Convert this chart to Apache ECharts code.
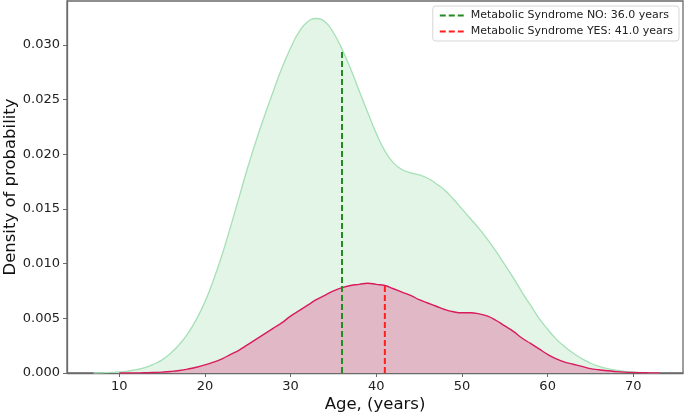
<!DOCTYPE html>
<html>
<head>
<meta charset="utf-8">
<script src="https://cdn.jsdelivr.net/npm/echarts@6/dist/echarts.min.js"></script>
<style>
  html, body { margin: 0; padding: 0; background: #fff; }
  #chart { width: 685px; height: 416px; }
</style>
</head>
<body>
<div id="chart"></div>
<script>
// KDE of age, by metabolic syndrome status
const ageNo = [7, 8, 9, 10, 11, 12, 13, 14, 15, 16, 17, 18, 19, 20, 21, 22, 23, 24, 25, 26, 27, 28, 29, 30, 31, 32,
  33, 34, 35, 36, 37, 38, 39, 40, 41, 42, 43, 44, 45, 46, 47, 48, 49, 50, 51, 52, 53, 54, 55, 56, 57, 58, 59, 60,
  61, 62, 63, 64, 65, 66, 67, 68, 69, 70, 71, 72, 73]
const densNo = [0, 0.00002, 0.00005, 0.0001, 0.00018, 0.0003, 0.0005, 0.0008, 0.0012, 0.0018, 0.0026, 0.0036,
  0.0049, 0.0065, 0.0085, 0.0108, 0.0134, 0.0161, 0.0188, 0.0213, 0.0236, 0.0258, 0.0279, 0.0297, 0.0312, 0.0321,
  0.0324, 0.0321, 0.0311, 0.0296, 0.0278, 0.0258, 0.0238, 0.0219, 0.0203, 0.0192, 0.0186, 0.0183, 0.0181, 0.0178,
  0.0173, 0.0167, 0.0159, 0.0150, 0.0141, 0.0132, 0.0122, 0.0111, 0.0099, 0.0087, 0.0074, 0.0062, 0.0050, 0.0040,
  0.0031, 0.0024, 0.0018, 0.0013, 0.0009, 0.0006, 0.0004, 0.00025, 0.00015, 0.00008, 0.00004, 0.00001, 0]

const ageYes = [10, 11, 12, 13, 14, 15, 16, 17, 18, 19, 20, 21, 22, 23, 24, 25, 26, 27, 28, 29, 30, 31, 32, 33, 34,
  35, 36, 37, 38, 39, 40, 41, 42, 43, 44, 45, 46, 47, 48, 49, 50, 51, 52, 53, 54, 55, 56, 57, 58, 59, 60, 61, 62,
  63, 64, 65, 66, 67, 68, 69, 70, 71, 72, 73]
const densYes = [0, 0.000005, 0.00001, 0.00002, 0.00004, 0.00008, 0.00014, 0.00023, 0.00036, 0.00053, 0.00074,
  0.00099, 0.0013, 0.0017, 0.0021, 0.0026, 0.0031, 0.0036, 0.0041, 0.0046, 0.0052, 0.0057, 0.0062, 0.0067, 0.0071,
  0.0075, 0.0078, 0.0080, 0.0081, 0.0082, 0.0081, 0.0080, 0.0077, 0.0074, 0.0071, 0.0067, 0.0064, 0.0061, 0.0058,
  0.0056, 0.0055, 0.0055, 0.0054, 0.0052, 0.0048, 0.0043, 0.0038, 0.0032, 0.0027, 0.0022, 0.0017, 0.0013, 0.0010,
  0.0008, 0.0006, 0.0004, 0.0003, 0.0002, 0.00013, 0.00008, 0.00005, 0.00003, 0.00001, 0]

// medians and the curve height there
const medianNo = 36.0
const medianNoTop = 0.0295
const medianYes = 41.0
const medianYesTop = 0.0080

const xTicks = [10, 20, 30, 40, 50, 60, 70]
const yTicks = [0, 0.005, 0.01, 0.015, 0.02, 0.025, 0.03]

const nameNo = `Metabolic Syndrome NO: ${medianNo.toFixed(1)} years`
const nameYes = `Metabolic Syndrome YES: ${medianYes.toFixed(1)} years`

const font = 'DejaVu Sans'
const axisColor = '#6a6a6a'

const pairs = (xs, ys) => xs.map((x, i) => [x, ys[i]])

const chart = echarts.init(document.getElementById('chart'), null, { renderer: 'canvas' })

const option = {
  animation: false,
  textStyle: { fontFamily: font },
  grid: {
    left: 67,
    right: 2,
    top: 1,
    bottom: 43,
    show: true,
    borderColor: axisColor,
    borderWidth: 1.3,
    outerBoundsMode: 'none',
  },
  legend: {
    orient: 'vertical',
    right: 6,
    top: 6,
    data: [nameNo, nameYes],
    itemWidth: 24,
    itemHeight: 10,
    itemGap: 5,
    padding: [4, 6, 4, 6],
    borderColor: '#d6d6d6',
    borderWidth: 1,
    borderRadius: 3,
    backgroundColor: '#fff',
    itemStyle: { opacity: 0 },
    textStyle: { fontFamily: font, fontSize: 11, color: '#222', padding: [0, 0, 0, 2] },
  },
  xAxis: {
    type: 'value',
    min: 3.9,
    max: 75.8,
    name: 'Age, (years)',
    nameLocation: 'middle',
    nameGap: 23,
    nameMoveOverlap: false,
    nameTextStyle: { fontFamily: font, fontSize: 16.5, color: '#111' },
    axisLine: { lineStyle: { color: axisColor, width: 1.3 } },
    axisTick: { show: true, length: 4, lineStyle: { color: axisColor }, customValues: xTicks },
    axisLabel: { customValues: xTicks, fontSize: 13, color: '#222', margin: 7 },
    splitLine: { show: false },
  },
  yAxis: {
    type: 'value',
    min: 0,
    max: 0.034,
    name: 'Density of probability',
    nameLocation: 'middle',
    nameGap: 48,
    nameMoveOverlap: false,
    nameTextStyle: { fontFamily: font, fontSize: 16.5, color: '#111' },
    axisLine: { show: true, lineStyle: { color: axisColor, width: 1.3 } },
    axisTick: { show: true, length: 4, lineStyle: { color: axisColor }, customValues: yTicks },
    axisLabel: {
      customValues: yTicks,
      fontSize: 13,
      color: '#222',
      margin: 7,
      formatter: (v) => v.toFixed(3),
    },
    splitLine: { show: false },
  },
  series: [
    {
      name: 'NO',
      type: 'line',
      data: pairs(ageNo, densNo),
      smooth: 0.5,
      symbol: 'none',
      lineStyle: { color: '#a6e0b6', width: 1.3 },
      areaStyle: { color: '#e2f5e7', opacity: 1 },
      z: 1,
    },
    {
      name: 'YES',
      type: 'line',
      data: pairs(ageYes, densYes),
      smooth: 0.5,
      symbol: 'none',
      lineStyle: { color: '#d81b5c', width: 1.4 },
      areaStyle: { color: '#e1b8c6', opacity: 1 },
      z: 2,
    },
    {
      name: nameNo,
      type: 'line',
      data: [[medianNo, 0], [medianNo, medianNoTop]],
      symbol: 'none',
      color: '#228b22',
      lineStyle: { color: '#228b22', width: 2, type: [6, 3] },
      z: 3,
    },
    {
      name: nameYes,
      type: 'line',
      data: [[medianYes, 0], [medianYes, medianYesTop]],
      symbol: 'none',
      color: '#ff1f1f',
      lineStyle: { color: '#ff1f1f', width: 2, type: [6, 3] },
      z: 3,
    },
  ],
}

chart.setOption(option)
</script>
</body>
</html>
